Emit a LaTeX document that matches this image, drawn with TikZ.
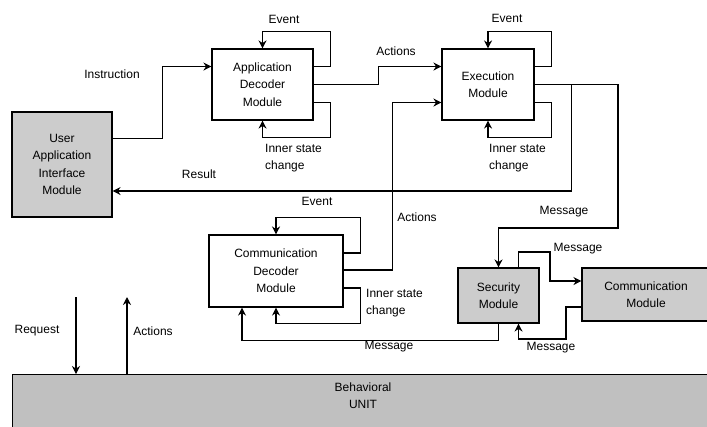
\documentclass[tikz,border=0pt]{standalone}
\usepackage{fontspec}
\setmainfont{Liberation Sans}
\usepackage{xcolor}
\definecolor{cLine}{HTML}{000000}
\definecolor{cBox}{HTML}{CCCCCC}
\definecolor{cUnit}{HTML}{C0C0C0}
\usepackage{tikz}
\usetikzlibrary{positioning,arrows.meta,calc}
\tikzset{
  node-box/.style={draw=cLine,line width=1.1pt,align=center,inner sep=0pt,
    font=\fontsize{12}{17.5}\selectfont},
  node-gray/.style={fill=cBox},
  node-unit/.style={fill=cUnit},
  node-lbl/.style={inner sep=0pt,align=left,font=\fontsize{12}{17}\selectfont},
  arrow/.style={-{Stealth[length=8pt,width=8pt]},line width=1.1pt,draw=cLine},
  wire/.style={line width=1.1pt,draw=cLine},
}

\begin{document}
\begin{tikzpicture}[x=1pt,y=-1pt]
  \useasboundingbox (0,0) rectangle (707,426);
  % modules
  \node[node-box,node-gray,minimum width=100pt,minimum height=105pt] (uaim) at (62,164.5) {User\\Application\\Interface\\Module};
  \node[node-box,minimum width=101pt,minimum height=71pt] (adm) at (262.5,84.5) {Application\\Decoder\\Module};
  \node[node-box,minimum width=92pt,minimum height=71pt] (exm) at (488,84.5) {Execution\\Module};
  \node[node-box,minimum width=134pt,minimum height=72pt] (cdm) at (276,271) {Communication\\Decoder\\Module};
  \node[node-box,node-gray,minimum width=81pt,minimum height=55pt] (sec) at (498.5,295.5) {Security\\Module};
  \node[node-box,node-gray,minimum width=128pt,minimum height=53pt] (com) at (646,294.5) {Communication\\Module};
  \node[node-box,node-unit,minimum width=700pt,minimum height=60pt,anchor=north west] (beh) at (12,374) {};
  \node[node-lbl,align=center] (beh-txt) at (363,396) {Behavioral\\UNIT};

  % self loops
  \draw[arrow] ($(adm.east)+(0,-18)$) -| ($(adm.north east)+(17,-17)$) -| (adm.north);
  \draw[arrow] ($(adm.east)+(0,18)$) -| ($(adm.south east)+(17,17)$) -| (adm.south);
  \draw[arrow] ($(exm.east)+(0,-18)$) -| ($(exm.north east)+(17,-17)$) -| (exm.north);
  \draw[arrow] ($(exm.east)+(0,18)$) -| ($(exm.south east)+(17,17)$) -| (exm.south);
  \draw[arrow] ($(cdm.east)+(0,-18)$) -| ($(cdm.north east)+(17,-17)$) -| (cdm.north);
  \draw[arrow] ($(cdm.east)+(0,17)$) -| ($(cdm.south east)+(17,16)$) -| (cdm.south);
  \node[node-lbl] (ev-adm) at (284,19) {Event};
  \node[node-lbl] (ev-exm) at (507,18) {Event};
  \node[node-lbl] (ev-cdm) at (317,201) {Event};
  \node[node-lbl,anchor=north west] (isc-adm) at (265,144) {Inner state\\change};
  \node[node-lbl,anchor=north west] (isc-exm) at (489,144) {Inner state\\change};
  \node[node-lbl,anchor=north west] (isc-cdm) at (366,289) {Inner state\\change};

  % flows
  \draw[arrow] ($(uaim.east)+(0,-26)$) -- ++(50,0) |- ($(adm.west)+(0,-18)$);
  \draw[arrow] (adm.east) -- ++(65,0) |- ($(exm.west)+(0,-18)$);
  \draw[arrow] ($(cdm.east)+(0,-1)$) -- ++(49,0) |- ($(exm.west)+(0,18)$);
  \draw[arrow] (exm.east) -- ++(37,0) |- ($(uaim.east)+(0,26.5)$);
  \draw[arrow] (exm.east) -| (618,228) -| (sec.north);
  \draw[arrow] ($(sec.north)+(20,0)$) |- (550,252) |- ($(com.west)+(0,-13.5)$);
  \draw[arrow] ($(com.west)+(0,12.5)$) -| (566,339) -| ($(sec.south)+(20,0)$);
  \draw[arrow] (sec.south) -- ++(0,17) -| ($(cdm.south)+(-34,0)$);
  \node[node-lbl] (lbl-instr) at (112,74) {Instruction};
  \node[node-lbl] (lbl-res) at (199,174) {Result};
  \node[node-lbl] (lbl-act1) at (396,51) {Actions};
  \node[node-lbl] (lbl-act2) at (417,217) {Actions};
  \node[node-lbl] (lbl-msg1) at (564,212) {Message};
  \node[node-lbl] (lbl-msg2) at (578,249) {Message};
  \node[node-lbl] (lbl-msg3) at (551,348) {Message};
  \node[node-lbl] (lbl-msg4) at (389,347) {Message};

  % behavioral unit
  \coordinate (req) at (76,297);
  \coordinate (act) at (127,297);
  \draw[arrow] (req) -- (req |- beh.north);
  \draw[arrow] (act |- beh.north) -- (act);
  \node[node-lbl] (lbl-req) at (37,331) {Request};
  \node[node-lbl] (lbl-act3) at (153,331) {Actions};
\end{tikzpicture}
\end{document}
